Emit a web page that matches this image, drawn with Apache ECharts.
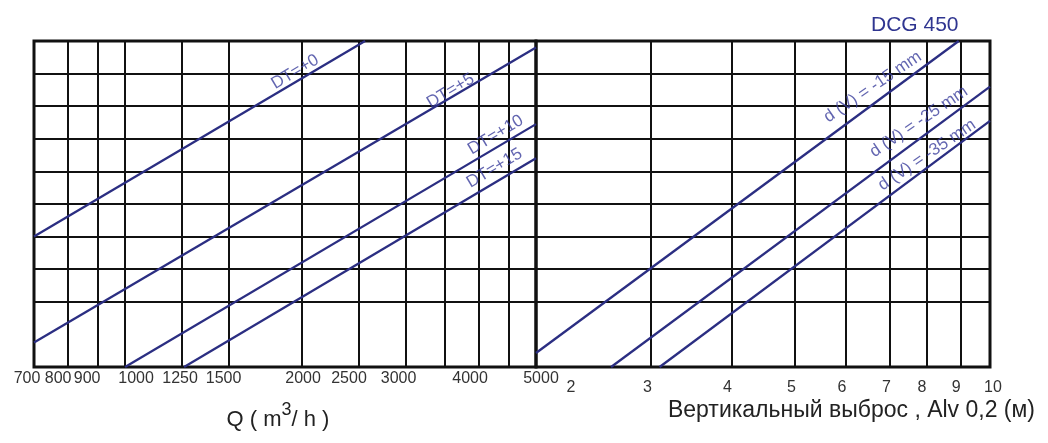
<!DOCTYPE html>
<html>
<head>
<meta charset="utf-8">
<script src="https://cdn.jsdelivr.net/npm/echarts@6/dist/echarts.min.js"></script>
<style>
html,body{margin:0;padding:0;background:#fff;}
#chart{width:1048px;height:443px;}
</style>
</head>
<body>
<div id="chart"></div>
<script>
// Tick labels and grid positions
const qTickLabels = [700, 800, 900, 1000, 1250, 1500, 2000, 2500, 3000, 4000, 5000];
const qGridValues = [700, 800, 900, 1000, 1250, 1500, 2000, 2500, 3000, 3500, 4000, 4500, 5000];
const vTickLabels = [2, 3, 4, 5, 6, 7, 8, 9, 10];

// Left panel lines: [Q, level]
const lineDT0 = [[700, 4.0], [2560, 10]];
const lineDT5 = [[700, 0.75], [5000, 9.8]];
const lineDT10 = [[1000, 0], [5000, 7.45]];
const lineDT15 = [[1260, 0], [5000, 6.4]];
// Right panel lines: [V, level]
const lineDV15 = [[2, 0.43], [8.95, 10]];
const lineDV25 = [[2.61, 0], [10, 8.6]];
const lineDV35 = [[3.1, 0], [10, 7.55]];

// Line labels
const dtNames = ['DT=+0', 'DT=+5', 'DT=+10', 'DT=+15'];
const dtLabelAt = [[1946, 9.05], [3580, 8.47], [4270, 7.12], [4250, 6.1]];
const dvNames = ['d (V) = -15 mm', 'd (V) = -25 mm', 'd (V) = -35 mm'];
const dvLabelAt = [[6.6, 8.59], [7.77, 7.52], [8.0, 6.5]];

// Styling: horizontal nudges (px) of the tick labels, as in the scanned original
const qLabelShift = [-7, -10, -11, 11, -2, -5, 1, -10, -7, -9, 5];
const vLabelShift = [35, -3, -4, -3, -4, -3, -5, -4, 3];

const BLUE = '#2b2e82';
const LABEL_BLUE = '#3b3f9c';
const FONT = 'Liberation Sans, Arial, sans-serif';

function shiftRich(shifts, fs) {
  const rich = {};
  shifts.forEach((s, i) => {
    rich['l' + i] = {
      fontSize: fs, color: '#333', fontFamily: FONT,
      padding: s >= 0 ? [0, 0, 0, 2 * s] : [0, -2 * s, 0, 0]
    };
  });
  return rich;
}
function shiftFormatter(list) {
  return v => {
    let best = 0;
    list.forEach((t, i) => { if (Math.abs(t - v) < Math.abs(list[best] - v)) best = i; });
    return '{l' + best + '|' + list[best] + '}';
  };
}

const chart = echarts.init(document.getElementById('chart'), null, {renderer: 'canvas'});

function yAxisDef(idx) {
  const colors = [];
  for (let i = 0; i <= 10; i++) colors.push(i === 1 ? 'rgba(0,0,0,0)' : '#111');
  return {
    type: 'value', gridIndex: idx, min: 0, max: 10, interval: 1,
    axisLabel: {show: false}, axisTick: {show: false}, axisLine: {show: false},
    splitLine: {show: true, lineStyle: {color: colors, width: 2}}
  };
}

function lineSeries(data, xi) {
  return {
    type: 'line', xAxisIndex: xi, yAxisIndex: xi, data: data,
    symbol: 'none', lineStyle: {color: BLUE, width: 2.3}, z: 5, silent: true
  };
}

function labelSeries(names, pos, xi, rot, fs) {
  return {
    type: 'scatter', xAxisIndex: xi, yAxisIndex: xi, symbolSize: 0, z: 6,
    data: names.map((n, i) => ({name: n, value: pos[i]})),
    label: {show: true, position: 'inside', rotate: rot, formatter: '{b}',
      color: LABEL_BLUE, fontSize: fs, fontFamily: FONT},
    silent: true
  };
}

const option = {
  backgroundColor: '#fff',
  animation: false,
  title: {
    text: 'DCG 450', left: 866, top: 10,
    textStyle: {color: '#2f3590', fontSize: 21, fontWeight: 'normal', fontFamily: FONT}
  },
  grid: [
    {left: 34, top: 41, width: 502, height: 326, show: true, borderColor: '#111', borderWidth: 3, backgroundColor: 'transparent'},
    {left: 536, top: 41, width: 454, height: 326, show: true, borderColor: '#111', borderWidth: 3, backgroundColor: 'transparent'}
  ],
  xAxis: [
    {
      type: 'log', logBase: 10, gridIndex: 0, min: 700, max: 5000,
      axisLine: {show: false},
      axisTick: {show: false, customValues: qGridValues},
      splitLine: {show: true, lineStyle: {color: '#111', width: 2}},
      axisLabel: {show: true, customValues: qTickLabels, margin: 4, color: '#333', fontSize: 16,
        fontFamily: FONT, formatter: shiftFormatter(qTickLabels), rich: shiftRich(qLabelShift, 16)},
      name: '{a|Q ( m}{s|3}{a|/ h )}', nameLocation: 'middle', nameGap: 34,
      nameTextStyle: {padding: [0, 14, 0, 0], rich: {
        a: {fontSize: 22, color: '#222', fontFamily: FONT, verticalAlign: 'bottom'},
        s: {fontSize: 18, color: '#222', fontFamily: FONT, verticalAlign: 'top', padding: [0, 0, 12, 0]}
      }}
    },
    {
      type: 'log', logBase: 10, gridIndex: 1, min: 2, max: 10,
      axisLine: {show: false},
      axisTick: {show: false, customValues: vTickLabels},
      splitLine: {show: true, lineStyle: {color: '#111', width: 2}},
      axisLabel: {show: true, customValues: vTickLabels, margin: 13, color: '#333', fontSize: 16,
        fontFamily: FONT, formatter: shiftFormatter(vTickLabels), rich: shiftRich(vLabelShift, 16)}
    }
  ],
  yAxis: [yAxisDef(0), yAxisDef(1)],
  graphic: [
    {type: 'text', right: 13, top: 399,
      style: {text: 'Вертикальный выброс , Alv 0,2 (м)', fill: '#222', fontSize: 23, fontFamily: FONT}}
  ],
  series: [
    lineSeries(lineDT0, 0), lineSeries(lineDT5, 0), lineSeries(lineDT10, 0), lineSeries(lineDT15, 0),
    lineSeries(lineDV15, 1), lineSeries(lineDV25, 1), lineSeries(lineDV35, 1),
    labelSeries(dtNames, dtLabelAt, 0, 31, 17),
    labelSeries(dvNames, dvLabelAt, 1, 34, 17)
  ]
};
chart.setOption(option);
</script>
</body>
</html>
